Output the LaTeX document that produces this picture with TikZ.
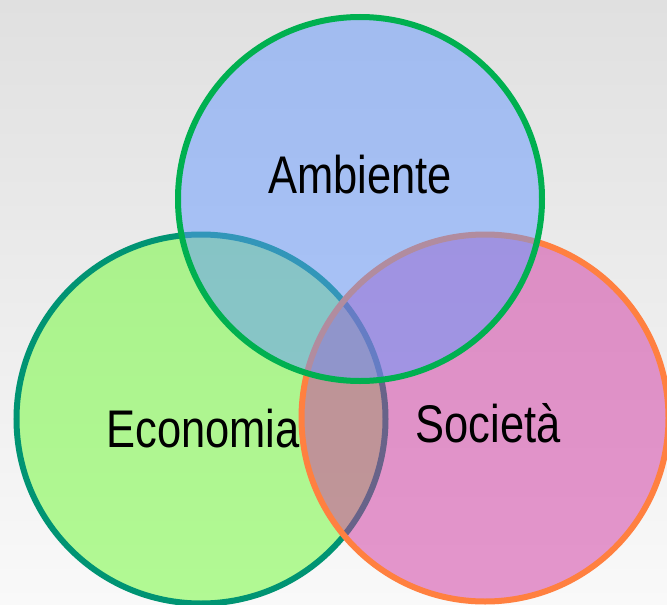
\documentclass[tikz,border=0pt]{standalone}
\usepackage{fontspec}
\setmainfont{Liberation Sans}

\definecolor{bgTop}{RGB}{224,224,224}
\definecolor{bgBottom}{RGB}{249,249,249}
\definecolor{ambienteFill}{RGB}{100,152,255}
\definecolor{ambienteLine}{RGB}{0,176,80}
\definecolor{economiaFill}{RGB}{108,250,48}
\definecolor{economiaLine}{RGB}{0,148,115}
\definecolor{societaFill}{RGB}{208,52,160}
\definecolor{societaLine}{RGB}{255,128,64}

\newlength\lineWidth
\setlength\lineWidth{6pt}

\tikzset{
  vennCircle/.style={circle, inner sep=0pt, line width=\lineWidth, fill opacity=0.5, draw opacity=1},
  vennLabel/.style={font=\fontsize{53}{60}\selectfont, inner sep=0pt, anchor=base}
}

\begin{document}
\begin{tikzpicture}[x=1pt,y=-1pt]
    % background
    \useasboundingbox (0,0) rectangle (667,605);
    \clip (0,0) rectangle (667,605);
    \shade[top color=bgTop, bottom color=bgBottom] (0,0) rectangle (667,605);

    % circles, bottom one first, each with its label
    \foreach \name/\cx/\cy/\r/\tx/\ty/\txt in {%
        economia/201/419/184.5/203/447/Economia,%
        societa/485/418/183.5/488/442/Società,%
        ambiente/360/199/182/360/193/Ambiente} {
      \node[vennCircle, minimum size=2*\r pt, draw=\name Line, fill=\name Fill] (\name) at (\cx,\cy) {};
      \node[vennLabel] (\name Label) at (\tx,\ty) {\scalebox{0.82}[1]{\txt}};
    }
\end{tikzpicture}
\end{document}
